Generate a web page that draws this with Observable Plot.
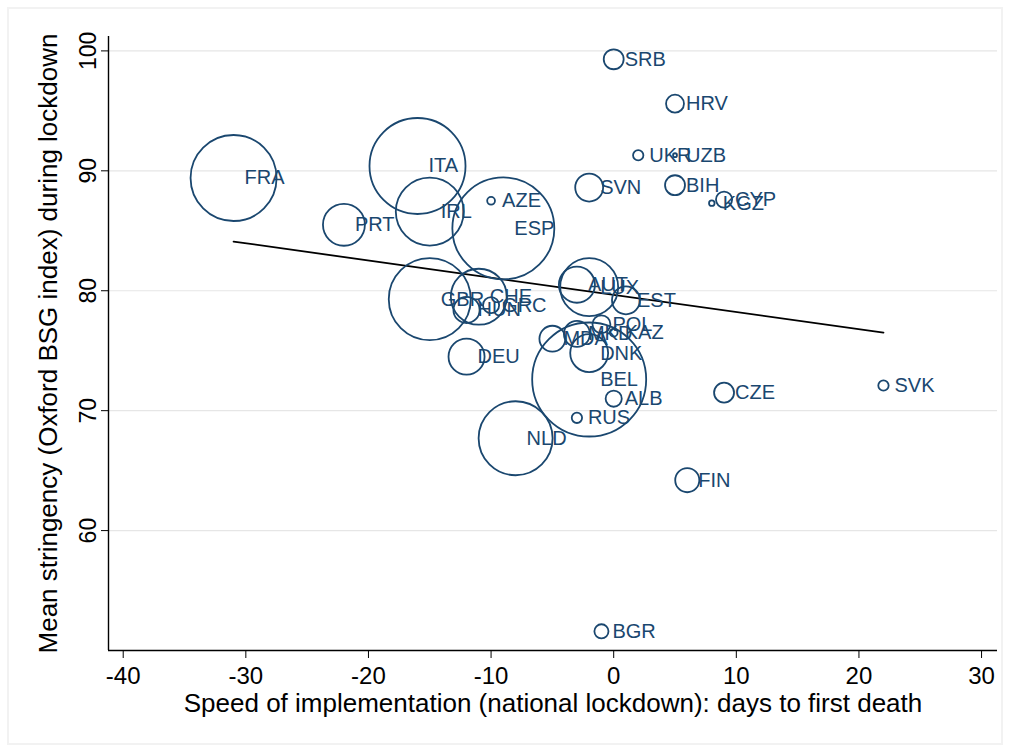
<!DOCTYPE html>
<html><head><meta charset="utf-8">
<script src="https://cdn.jsdelivr.net/npm/d3@7"></script>
<script src="https://cdn.jsdelivr.net/npm/@observablehq/plot@0.6"></script>
<style>
body{margin:0;background:#fff}
#wrap{position:relative;width:1010px;height:750px}
#frame{position:absolute;left:7px;top:7px;width:992px;height:734px;border:2px solid #f2f2f2;pointer-events:none}
</style>
</head><body>
<div id="wrap"><div id="frame"></div></div>
<script>
const countries = ["FRA","ITA","IRL","PRT","AZE","ESP","GBR","CHE","HUN","GRC","DEU","NLD","BEL","ALB","RUS","CZE","SVK","FIN","BGR","SRB","HRV","UKR","UZB","SVN","BIH","KGZ","CYP","AUT","LUX","EST","POL","MDA","MKD","KAZ","DNK"];
const days =       [-31,-16,-15,-22,-10,-9,-15,-11,-12,-10,-12,-8,-2,0,-3,9,22,6,-1,0,5,2,5,-2,5,8,9,-3,-2,1,-1,-5,-3,0,-2];
const stringency = [89.4,90.4,86.6,85.5,87.5,85.2,79.3,79.5,78.4,78.8,74.5,67.7,72.6,71.0,69.4,71.5,72.1,64.2,51.6,99.3,95.6,91.3,91.3,88.6,88.8,87.3,87.6,80.5,80.3,79.2,77.2,76.0,76.4,76.5,74.8];
const weight =     [484,603,302,115,4,680,440,205,45,17,85,358,850,17,7,26,7,38,13,26,21,7,1,51,26,2,17,85,220,51,21,44,44,4,94];
const xTicks = [-40,-30,-20,-10,0,10,20,30];
const yTicks = [60,70,80,90,100];
const fitDays = [-31, 22];
const fitStringency = [84.1, 76.5];
const xTitle = "Speed of implementation (national lockdown): days to first death";
const yTitle = "Mean stringency (Oxford BSG index) during lockdown";

const data = countries.map((c,i)=>({country:c, days:days[i], stringency:stringency[i], weight:weight[i]}));
const fit = fitDays.map((d,i)=>({days:d, stringency:fitStringency[i]}));
const xDomain = [-41.2, 31.3], yDomain = [50, 101.2];
const font = "'Liberation Sans', Arial, sans-serif";
const navy = "#1a476f";

const chart = Plot.plot({
  width:1010, height:750,
  marginLeft:108, marginRight:13, marginTop:36, marginBottom:100,
  style:{fontFamily:font, background:"transparent", color:"#000"},
  x:{domain:xDomain}, y:{domain:yDomain},
  r:{type:"sqrt", domain:[0,850], range:[0,57]},
  marks:[
    Plot.ruleY(yTicks,{stroke:"#e6e6e6", strokeWidth:1.2}),
    Plot.ruleY([yDomain[0]],{stroke:"#000", strokeWidth:1.4}),
    Plot.ruleX([xDomain[0]],{stroke:"#000", strokeWidth:1.4}),
    Plot.axisX({ticks:xTicks, tickSize:8, tickPadding:8, fontSize:24, label:null, tickFormat:d=>String(d), stroke:"#000", fill:"#000"}),
    Plot.axisY({ticks:yTicks, tickSize:7, tickFormat:()=>"", label:null, stroke:"#000"}),
    Plot.text(yTicks,{y:d=>d, text:d=>String(d), frameAnchor:"left", textAnchor:"middle", lineAnchor:"middle", dx:-20, rotate:-90, fontSize:23, fill:"#000"}),
    Plot.text([xTitle],{frameAnchor:"bottom", textAnchor:"middle", lineAnchor:"middle", dy:53, text:d=>d, fontSize:26, fill:"#000"}),
    Plot.text([yTitle],{frameAnchor:"left", textAnchor:"middle", lineAnchor:"middle", dx:-60, rotate:-90, text:d=>d, fontSize:26, fill:"#000"}),
    Plot.line(fit,{x:"days", y:"stringency", stroke:"#000", strokeWidth:1.8}),
    Plot.dot(data,{x:"days", y:"stringency", r:"weight", stroke:navy, strokeWidth:1.8, fill:"none"}),
    Plot.text(data,{x:"days", y:"stringency", text:"country", textAnchor:"start", dx:11, fill:navy, fontSize:20})
  ]
});
document.getElementById("wrap").prepend(chart);
</script>
</body></html>
